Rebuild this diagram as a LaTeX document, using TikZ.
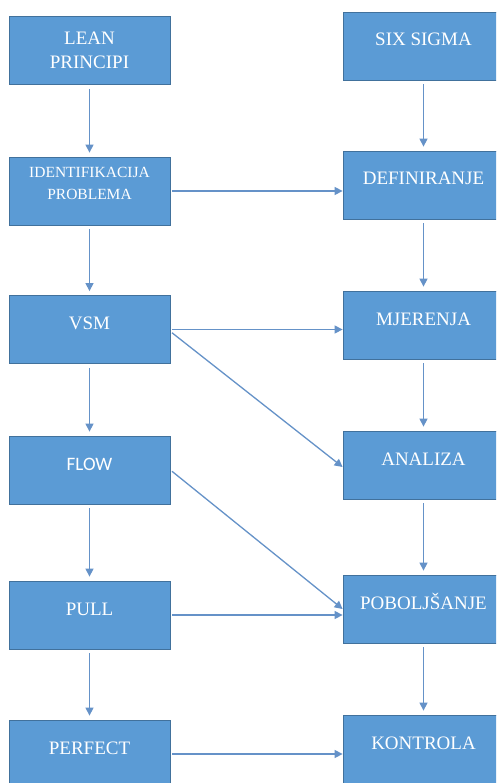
\documentclass[tikz,border=0pt]{standalone}
\usepackage{fontspec}
\setmainfont{Liberation Serif}
\newfontfamily\calib{Carlito}
\usetikzlibrary{arrows.meta}
\definecolor{boxblue}{HTML}{5B9BD5}
\definecolor{boxedge}{HTML}{41719C}
\definecolor{arrowblue}{HTML}{6592C8}
\begin{document}
\begin{tikzpicture}[x=1pt,y=-1pt,
  box/.style={rectangle, fill=boxblue, draw=boxedge, line width=0.8pt,
    minimum width=161pt, minimum height=68pt, inner sep=0pt, text=white,
    font=\fontsize{19}{24}\selectfont, text height=0pt, text depth=0pt},
  smalltext/.style={font=\fontsize{15.5}{22}\selectfont},
  conn/.style={draw=arrowblue, line width=1.3pt, -{Triangle[length=8pt,width=8pt]},
    shorten <=4pt, shorten >=4pt},
  hconn/.style={draw=arrowblue, line width=1.3pt, -{Triangle[length=8pt,width=8pt]},
    shorten <=2pt, shorten >=0pt}]
\useasboundingbox (0,0) rectangle (496,783);
\clip (0,0) rectangle (496,783);
\fill[white] (0,0) rectangle (496,783);
% left column
\node[box] (lean) at (89.5,50.5) {\raisebox{-17.8pt}[0pt][0pt]{\begin{tabular}[b]{@{}c@{}}LEAN\\PRINCIPI\end{tabular}}};
\node[box, smalltext] (ident) at (89.5,191) {\raisebox{-9pt}[0pt][0pt]{\begin{tabular}[b]{@{}c@{}}IDENTIFIKACIJA\\PROBLEMA\end{tabular}}};
\node[box] (vsm) at (89.5,329.5) {VSM};
\node[box, font=\calib\fontsize{19}{24}\selectfont] (flow) at (89.5,470) {FLOW};
\node[box] (pull) at (89.5,615) {PULL};
\node[box] (perfect) at (89.5,754) {PERFECT};
% right column
\node[box] (six) at (423.5,46) {SIX SIGMA};
\node[box] (def) at (423.5,185) {DEFINIRANJE};
\node[box] (mjer) at (423.5,325) {MJERENJA};
\node[box] (anal) at (423.5,465) {ANALIZA};
\node[box] (pob) at (423.5,609) {POBOLJŠANJE};
\node[box] (kont) at (423.5,749) {KONTROLA};
% vertical arrows
\draw[conn] (lean.south) -- (ident.north);
\draw[conn] (ident.south) -- (vsm.north);
\draw[conn] (vsm.south) -- (flow.north);
\draw[conn] (flow.south) -- (pull.north);
\draw[conn] (pull.south) -- (perfect.north);
\draw[conn] (six.south) -- (def.north);
\draw[conn] (def.south) -- (mjer.north);
\draw[conn] (mjer.south) -- (anal.north);
\draw[conn] (anal.south) -- (pob.north);
\draw[conn] (pob.south) -- (kont.north);
% horizontal arrows
\draw[hconn] (ident.east) -- (ident.east -| def.west);
\draw[hconn] (vsm.east) -- (vsm.east -| mjer.west);
\draw[hconn] (pull.east) -- (pull.east -| pob.west);
\draw[hconn] (perfect.east) -- (perfect.east -| kont.west);
% diagonal arrows
\draw[hconn] ([yshift=-2pt]vsm.east) -- ([yshift=-2pt]anal.west);
\draw[hconn] (flow.east) -- (pob.west);
\end{tikzpicture}
\end{document}
